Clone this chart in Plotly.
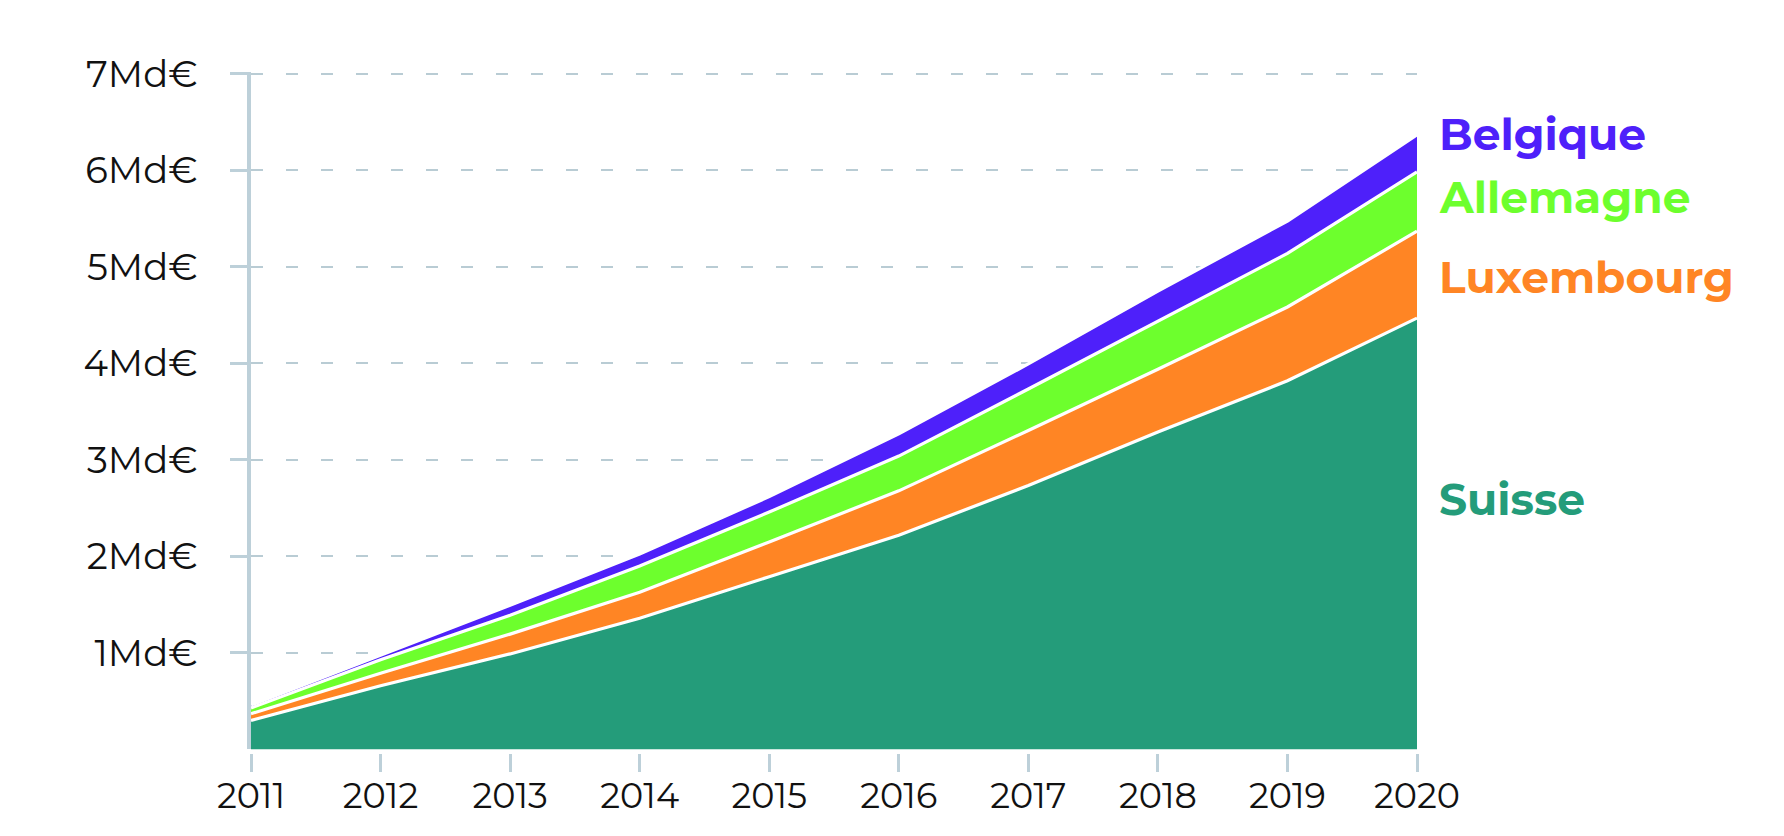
import plotly.graph_objects as go

years = [2011, 2012, 2013, 2014, 2015, 2016, 2017, 2018, 2019, 2020]
suisse = [0.30, 0.66, 0.99, 1.36, 1.79, 2.22, 2.735, 3.29, 3.82, 4.47]
luxembourg = [0.07, 0.13, 0.205, 0.27, 0.36, 0.46, 0.57, 0.65, 0.765, 0.90]
allemagne = [0.06, 0.14, 0.195, 0.27, 0.31, 0.36, 0.43, 0.50, 0.555, 0.615]
belgique = [0.03, 0.05, 0.105, 0.125, 0.16, 0.23, 0.26, 0.31, 0.335, 0.385]

series = [
    ("Suisse", suisse, "#249C7A"),
    ("Luxembourg", luxembourg, "#FF8524"),
    ("Allemagne", allemagne, "#6DFF2D"),
    ("Belgique", belgique, "#4E20FA"),
]

y_tickvals = [1, 2, 3, 4, 5, 6, 7]
y_ticktext = ["1Md€", "2Md€", "3Md€", "4Md€", "5Md€", "6Md€", "7Md€"]

label_pos = {"Belgique": 6.38, "Allemagne": 5.72, "Luxembourg": 4.90, "Suisse": 2.60}

FONT = "Montserrat, Noto Sans, sans-serif"
AXIS = "#BDD0D9"

fig = go.Figure()
for name, vals, color in series:
    fig.add_trace(go.Scatter(
        x=years, y=vals, name=name, mode="lines",
        stackgroup="one", fillcolor=color,
        line=dict(color="white", width=3.2),
        hoverinfo="skip",
    ))

for name, vals, color in series:
    fig.add_annotation(
        x=1.0175, y=label_pos[name], xref="paper", yref="y",
        xanchor="left", yanchor="middle", showarrow=False,
        text=name, font=dict(family=FONT, size=44, color=color, weight=700),
    )

fig.update_layout(
    width=1784, height=836,
    margin=dict(l=243, r=375, t=63.5, b=91),
    paper_bgcolor="white", plot_bgcolor="white",
    showlegend=False,
    font=dict(family=FONT, color="#111111"),
)
fig.update_xaxes(
    range=[2011, 2020], tickvals=years, ticktext=[str(y) for y in years],
    showgrid=False, zeroline=False, showline=False,
    anchor="free", position=0,
    ticks="outside", ticklen=18, tickwidth=3, tickcolor=AXIS,
    tickfont=dict(family=FONT, size=35, color="#111111"),
    ticklabelstandoff=-6,
)
fig.update_yaxes(
    range=[0, 7.02], domain=[0.0052, 1], tickvals=y_tickvals, ticktext=y_ticktext,
    showgrid=True, gridcolor="#B9CCD4", gridwidth=2, griddash="12px,23px",
    zeroline=False, showline=True, linecolor=AXIS, linewidth=4,
    ticks="outside", ticklen=17, tickwidth=3, tickcolor=AXIS,
    tickfont=dict(family=FONT, size=37, color="#111111"),
    ticklabelstandoff=25,
)

fig.write_html("out.html")
